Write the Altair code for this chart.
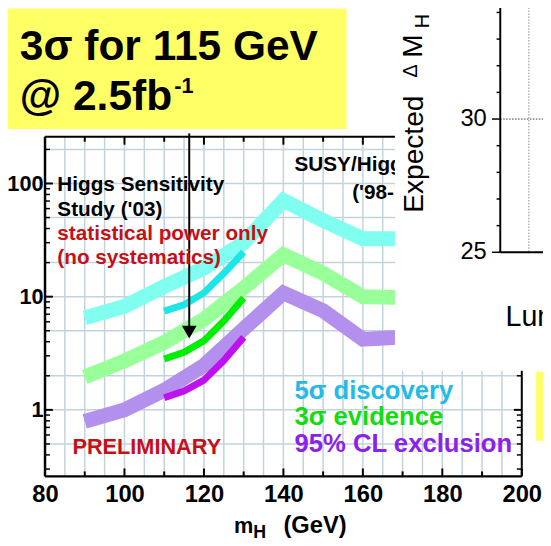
import altair as alt
import pandas as pd

FONT = "Liberation Sans"

# ---------------- data ----------------
BAND_MASS = [90, 100, 110, 120, 130, 140, 150, 160, 170]
BAND_DISCOVERY = [6.5, 8.2, 12.3, 17.8, 30.0, 71.0, 47.0, 32.5, 32.5]
BAND_EVIDENCE = [1.96, 2.7, 3.95, 6.3, 11.9, 23.5, 16.1, 10.0, 9.8]
BAND_EXCLUSION = [0.79, 1.0, 1.49, 2.47, 5.2, 10.8, 7.5, 4.2, 4.4]

LINE_MASS = [110, 115, 120, 125, 130]
LINE_DISCOVERY = [7.45, 8.5, 10.8, 16.1, 24.8]
LINE_EVIDENCE = [2.82, 3.23, 4.07, 6.1, 9.75]
LINE_EXCLUSION = [1.28, 1.47, 1.83, 2.73, 4.37]

SERIES = ["5σ discovery", "3σ evidence", "95% CL exclusion"]
BAND_COLORS = ["#80FFF0", "#99FF99", "#B490EE"]
LINE_COLORS = ["#1CE6E6", "#00EE00", "#BF10F0"]
LEGEND_COLORS = ["#22BBE6", "#11DD11", "#8A22EE"]
LEGEND_MASS = [142.8, 142.8, 142.8]
LEGEND_VALUE = [1.247, 0.731, 0.428]

NOTE_TEXT = ["Higgs Sensitivity", "Study ('03)", "statistical power only",
             "(no systematics)", "SUSY/Higgs Workshop", "('98-'99)", "PRELIMINARY"]
NOTE_MASS = [83.1, 83.1, 83.1, 83.1, 142.8, 157.3, 86.9]
NOTE_VALUE = [85.8, 51.9, 31.4, 19.4, 128.0, 73.0, 0.405]
NOTE_COLOR = ["black", "black", "#C41016", "#C41016", "black", "black", "#C41016"]
NOTE_SIZE = [21, 21, 21, 21, 21, 21, 22]

ARROW_MASS = [116.3]
ARROW_TOP = [277.0]
ARROW_BASE = [5.5]
ARROW_HEAD = [4.86]

X_LABELS = [80, 100, 120, 140, 160, 180, 200]
X_MINOR_TICKS = [90, 110, 130, 150, 170, 190]
X_GRID = [80, 85, 90, 95, 100, 105, 110, 115, 120, 125, 130, 135, 140, 145,
          150, 155, 160, 165, 170, 175, 180, 185, 190, 195, 200]
Y_LABELS = [1, 10, 100]
Y_MINOR_TICKS = [0.3, 0.4, 0.5, 0.6, 0.7, 0.8, 0.9, 2, 3, 4, 5, 6, 7, 8, 9,
                 20, 30, 40, 50, 60, 70, 80, 90, 200]
Y_GRID = [0.5, 1, 2, 5, 10, 20, 50, 100, 200]

RIGHT_LABELS = [25, 30]
RIGHT_MINOR = [26, 27, 28, 29, 31, 32, 33, 34]
RIGHT_GRID = [30]

W, H = 483, 344
GRID_COLOR = "#C2D3DC"

XS = alt.Scale(domain=[80, 200], nice=False, zero=False)
YS = alt.Scale(type="log", domain=[0.2585, 258.5], nice=False)
RS = alt.Scale(domain=[25, 30], range=[117, -18], nice=False, zero=False)

XAXIS = alt.Axis(values=X_LABELS, title="", grid=False, ticks=False, tickSize=0,
                 domain=False, labelFont=FONT, labelFontSize=24, labelFontWeight="bold",
                 labelColor="black", labelPadding=6, labelFlush=False, zindex=0)
YAXIS = alt.Axis(values=Y_LABELS, format="d", title="", grid=False, ticks=False, tickSize=0,
                 domain=False, labelFont=FONT, labelFontSize=22, labelFontWeight="bold",
                 labelColor="black", labelPadding=2, zindex=0)


def X(f):
    return alt.X(f, type="quantitative", scale=XS, axis=XAXIS)


def Y(f):
    return alt.Y(f, type="quantitative", scale=YS, axis=YAXIS)


ONE = pd.DataFrame({"k": [0]})


def pix_rect(x, x2, y, y2, color):
    return alt.Chart(ONE).mark_rect(color=color).encode(
        x=alt.value(x), x2=alt.value(x2), y=alt.value(y), y2=alt.value(y2))


def pix_rule(x, x2, y, y2, color="black", width=2, dash=None):
    kw = dict(color=color, strokeWidth=width)
    if dash:
        kw["strokeDash"] = dash
    return alt.Chart(ONE).mark_rule(**kw).encode(
        x=alt.value(x), x2=alt.value(x2), y=alt.value(y), y2=alt.value(y2))


def pix_text(text, x, y, size, weight="bold", color="black", angle=0, align="left"):
    return alt.Chart(pd.DataFrame({"t": [text]})).mark_text(
        font=FONT, fontSize=size, fontWeight=weight, color=color, angle=angle,
        align=align, baseline="alphabetic").encode(
        x=alt.value(x), y=alt.value(y), text="t:N")


# ---------------- main chart ----------------
band_df = pd.DataFrame({
    "mass": BAND_MASS * 3,
    "value": BAND_DISCOVERY + BAND_EVIDENCE + BAND_EXCLUSION,
    "series": [s for s in SERIES for _ in BAND_MASS],
    "col": [c for c in BAND_COLORS for _ in BAND_MASS],
})
line_df = pd.DataFrame({
    "mass": LINE_MASS * 3,
    "value": LINE_DISCOVERY + LINE_EVIDENCE + LINE_EXCLUSION,
    "series": [s for s in SERIES for _ in LINE_MASS],
    "col": [c for c in LINE_COLORS for _ in LINE_MASS],
})

grid_x = alt.Chart(pd.DataFrame({"g": X_GRID})).mark_rule(
    color=GRID_COLOR, strokeWidth=1.5).encode(x=X("g"))
grid_y = alt.Chart(pd.DataFrame({"g": Y_GRID})).mark_rule(
    color=GRID_COLOR, strokeWidth=1.5).encode(y=Y("g"))

bands = alt.Chart(band_df).mark_line(strokeWidth=15, strokeCap="butt", strokeJoin="miter").encode(
    x=X("mass"), y=Y("value"), detail="series:N",
    color=alt.Color("col:N", scale=None))
lines = alt.Chart(line_df).mark_line(strokeWidth=7, strokeCap="butt", strokeJoin="round").encode(
    x=X("mass"), y=Y("value"), detail="series:N",
    color=alt.Color("col:N", scale=None))

arrow_df = pd.DataFrame({"m": ARROW_MASS, "top": ARROW_TOP, "base": ARROW_BASE, "head": ARROW_HEAD})
arrow_line = alt.Chart(arrow_df).mark_rule(color="black", strokeWidth=2).encode(
    x=X("m"), y=Y("top"), y2="base")
arrow_head = alt.Chart(arrow_df).mark_point(
    shape="triangle-down", size=220, filled=True, color="black", opacity=1).encode(
    x=X("m"), y=Y("head"))

xt_major = pd.DataFrame({"t": X_LABELS})
xt_minor = pd.DataFrame({"t": X_MINOR_TICKS})
yt_major = pd.DataFrame({"t": Y_LABELS})
yt_minor = pd.DataFrame({"t": Y_MINOR_TICKS})
ticks = [
    alt.Chart(xt_major).mark_rule(color="black", strokeWidth=2).encode(
        x=X("t"), y=alt.value(H - 8), y2=alt.value(H)),
    alt.Chart(xt_minor).mark_rule(color="black", strokeWidth=2).encode(
        x=X("t"), y=alt.value(H - 5), y2=alt.value(H)),
    alt.Chart(xt_major).mark_rule(color="black", strokeWidth=2).encode(
        x=X("t"), y=alt.value(0), y2=alt.value(8)),
    alt.Chart(xt_minor).mark_rule(color="black", strokeWidth=2).encode(
        x=X("t"), y=alt.value(0), y2=alt.value(5)),
    alt.Chart(yt_major).mark_rule(color="black", strokeWidth=2).encode(
        y=Y("t"), x=alt.value(0), x2=alt.value(8)),
    alt.Chart(yt_minor).mark_rule(color="black", strokeWidth=1.5).encode(
        y=Y("t"), x=alt.value(0), x2=alt.value(5)),
    alt.Chart(yt_major).mark_rule(color="black", strokeWidth=2).encode(
        y=Y("t"), x=alt.value(W - 8), x2=alt.value(W)),
    alt.Chart(yt_minor).mark_rule(color="black", strokeWidth=1.5).encode(
        y=Y("t"), x=alt.value(W - 5), x2=alt.value(W)),
]

frame = [
    pix_rule(0, 0, 0, H, width=2.5),
    pix_rule(W, W, 0, H, width=2),
    pix_rule(0, W, 0, 0, width=2),
    pix_rule(0, W, H, H, width=2.5),
]

note_df = pd.DataFrame({"t": NOTE_TEXT, "m": NOTE_MASS, "v": NOTE_VALUE,
                        "c": NOTE_COLOR, "s": NOTE_SIZE})
notes = alt.Chart(note_df).mark_text(
    font=FONT, fontWeight="bold", align="left", baseline="alphabetic").encode(
    x=X("m"), y=Y("v"), text="t:N",
    color=alt.Color("c:N", scale=None), size=alt.Size("s:Q", scale=None))

legend_df = pd.DataFrame({"t": SERIES, "m": LEGEND_MASS, "v": LEGEND_VALUE, "c": LEGEND_COLORS})
legend_text = alt.Chart(legend_df).mark_text(
    font=FONT, fontWeight="bold", fontSize=26, align="left", baseline="alphabetic").encode(
    x=X("m"), y=Y("v"), text="t:N", color=alt.Color("c:N", scale=None))

title_parts = [
    pix_rect(-45.5, 305.5, -130, -8, "#FFFF66"),
    pix_text("3σ for 115 GeV", -25.5, -78, 43),
    pix_text("@ 2.5fb", -25.5, -27, 43),
    pix_text("-1", 131, -44, 22),
]

xtitle = [
    pix_text("m", 191.5, 401, 22),
    pix_text("H", 211, 406, 18),
    pix_text("(GeV)", 241.5, 401, 24),
]

main = alt.layer(
    grid_x, grid_y, bands, lines, arrow_line, arrow_head,
    *ticks, *frame, notes, legend_text, *title_parts, *xtitle,
)

# ---------------- overlapping panel on the right ----------------
rmaj = pd.DataFrame({"v": RIGHT_LABELS})
rmin = pd.DataFrame({"v": RIGHT_MINOR})
rgrid = pd.DataFrame({"v": RIGHT_GRID})

right = alt.layer(
    pix_rect(354.5, 512, -140, 237, "white"),
    pix_rect(497.5, 512, 238, 308, "#FFFF66"),
    pix_rule(490.2, 490.2, -140, 117, color="#888888", width=1, dash=[1.5, 1.5]),
    alt.Chart(rgrid).mark_rule(color="#333333", strokeWidth=1, strokeDash=[1.5, 1.5]).encode(
        y=alt.Y("v:Q", scale=RS, axis=None), x=alt.value(461.2), x2=alt.value(512)),
    pix_rule(461.2, 461.2, -140, 117, width=2),
    pix_rule(461.2, 512, 117, 117, width=2),
    alt.Chart(rmaj).mark_rule(color="black", strokeWidth=1.5).encode(
        y=alt.Y("v:Q", scale=RS, axis=None), x=alt.value(452.8), x2=alt.value(461.2)),
    alt.Chart(rmin).mark_rule(color="black", strokeWidth=1.5).encode(
        y=alt.Y("v:Q", scale=RS, axis=None), x=alt.value(457.5), x2=alt.value(461.2)),
    alt.Chart(rmaj).mark_text(font=FONT, fontSize=24, align="right", baseline="middle",
                              color="black").encode(
        y=alt.Y("v:Q", scale=RS, axis=None), x=alt.value(447.5),
        text=alt.Text("v:Q", format="d")),
    pix_text("Expected", 382.5, 77, 28.5, weight="normal", angle=270),
    pix_text("Δ", 376.5, -60, 20, weight="normal", angle=270),
    pix_text("M", 381.5, -80, 28.5, weight="normal", angle=270),
    pix_text("H", 389.5, -110, 20, weight="normal", angle=270),
    pix_text("Lum", 466.5, 192, 29, weight="normal"),
)

chart = alt.layer(main, right).resolve_scale(y="independent").properties(
    width=W, height=H,
    padding={"left": 37.5, "top": 127, "right": 21.5, "bottom": 63},
    autosize=alt.AutoSizeParams(type="none"),
    background="white",
).configure_view(stroke="transparent")

chart.save("out.html", embed_options={"renderer": "svg", "actions": False})
